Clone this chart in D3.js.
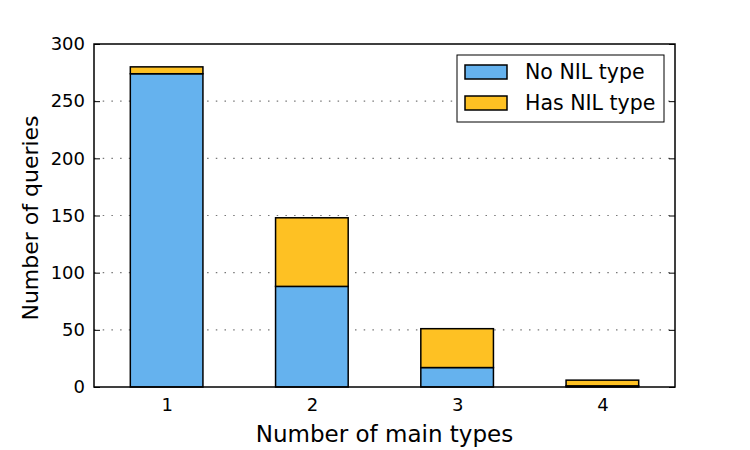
<!DOCTYPE html>
<html>
<head>
<meta charset="utf-8">
<script src="https://cdn.jsdelivr.net/npm/d3@7"></script>
<style>
  body { margin: 0; background: #fff; }
  text { font-family: "DejaVu Sans", sans-serif; fill: #000; }
</style>
</head>
<body>
<script>
// data
var CATEGORIES = [1, 2, 3, 4];
var NO_NIL = [274, 88, 17, 1];
var HAS_NIL = [6, 60, 34, 5];
var SERIES = ["No NIL type", "Has NIL type"];
var COLORS = ["#65b2ee", "#fec123"];
var Y_TICKS = [0, 50, 100, 150, 200, 250, 300];

var W = 750, H = 450;
var MARGINS = {top: 44, bottom: 63, left: 94, right: 75};

var svg = d3.select("body").append("svg").attr("width", W).attr("height", H);

var xScale = d3.scaleLinear().domain([0.5, 4.5]).range([MARGINS.left, W - MARGINS.right]);
var yScale = d3.scaleLinear().domain([0, 300]).range([H - MARGINS.bottom, MARGINS.top]);

// grid
svg.append("g").selectAll("line").data(Y_TICKS.slice(1, -1)).enter().append("line")
    .attr("x1", MARGINS.left).attr("x2", W - MARGINS.right)
    .attr("y1", function (d) { return yScale(d); })
    .attr("y2", function (d) { return yScale(d); })
    .attr("stroke", "#777").attr("stroke-width", 1.2)
    .attr("stroke-dasharray", "1.5 7.2");

// stacked bars
var stack = d3.stack().keys([0, 1]).value(function (d, k) { return k === 0 ? d.a : d.b; });
var rows = CATEGORIES.map(function (c, i) { return {c: c, a: NO_NIL[i], b: HAS_NIL[i]}; });
var layers = stack(rows);
var bw = xScale(1.5) - xScale(1);

svg.append("g").selectAll("g").data(layers).enter().append("g")
    .attr("fill", function (d, i) { return COLORS[i]; })
    .selectAll("rect").data(function (d) { return d; }).enter().append("rect")
    .attr("x", function (d) { return xScale(d.data.c) - bw / 2; })
    .attr("width", bw)
    .attr("y", function (d) { return yScale(d[1]); })
    .attr("height", function (d) { return yScale(d[0]) - yScale(d[1]); })
    .attr("stroke", "#000").attr("stroke-width", 1.5);

// axes
var yAxisL = d3.axisLeft(yScale).tickValues(Y_TICKS).tickSizeInner(-6).tickSizeOuter(0).tickPadding(9);
var yAxisR = d3.axisRight(yScale).tickValues(Y_TICKS).tickSizeInner(-6).tickSizeOuter(0).tickFormat("");
var xAxis = d3.axisBottom(xScale).tickValues(CATEGORIES).tickFormat(d3.format("d")).tickSize(0).tickPadding(11);

var gl = svg.append("g").attr("transform", "translate(" + MARGINS.left + ",0)").call(yAxisL);
var gr = svg.append("g").attr("transform", "translate(" + (W - MARGINS.right) + ",0)").call(yAxisR);
var gx = svg.append("g").attr("transform", "translate(0," + (H - MARGINS.bottom) + ")").call(xAxis);
[gl, gr, gx].forEach(function (g) {
    g.select(".domain").remove();
    g.selectAll("text").style("font-size", "18px").style("font-family", "DejaVu Sans");
    g.selectAll("line").attr("stroke", "#000");
});

// frame
svg.append("rect")
    .attr("x", MARGINS.left).attr("y", MARGINS.top)
    .attr("width", W - MARGINS.left - MARGINS.right)
    .attr("height", H - MARGINS.top - MARGINS.bottom)
    .attr("fill", "none").attr("stroke", "#000").attr("stroke-width", 1.5);

// axis labels
svg.append("text").attr("x", (MARGINS.left + W - MARGINS.right) / 2).attr("y", 442)
    .attr("text-anchor", "middle").style("font-size", "23px").text("Number of main types");
svg.append("text").attr("transform", "translate(38,218) rotate(-90)")
    .attr("text-anchor", "middle").style("font-size", "22px").text("Number of queries");

// legend
var lg = svg.append("g").attr("transform", "translate(457,55)");
lg.append("rect").attr("width", 207).attr("height", 67)
    .attr("fill", "#fff").attr("stroke", "#000").attr("stroke-width", 1);
SERIES.forEach(function (s, i) {
    lg.append("rect").attr("x", 8).attr("y", 10 + i * 31).attr("width", 42).attr("height", 14)
        .attr("fill", COLORS[i]).attr("stroke", "#000").attr("stroke-width", 1.5);
    lg.append("text").attr("x", 68).attr("y", 24 + i * 31).style("font-size", "20.5px").text(s);
});
</script>
</body>
</html>
